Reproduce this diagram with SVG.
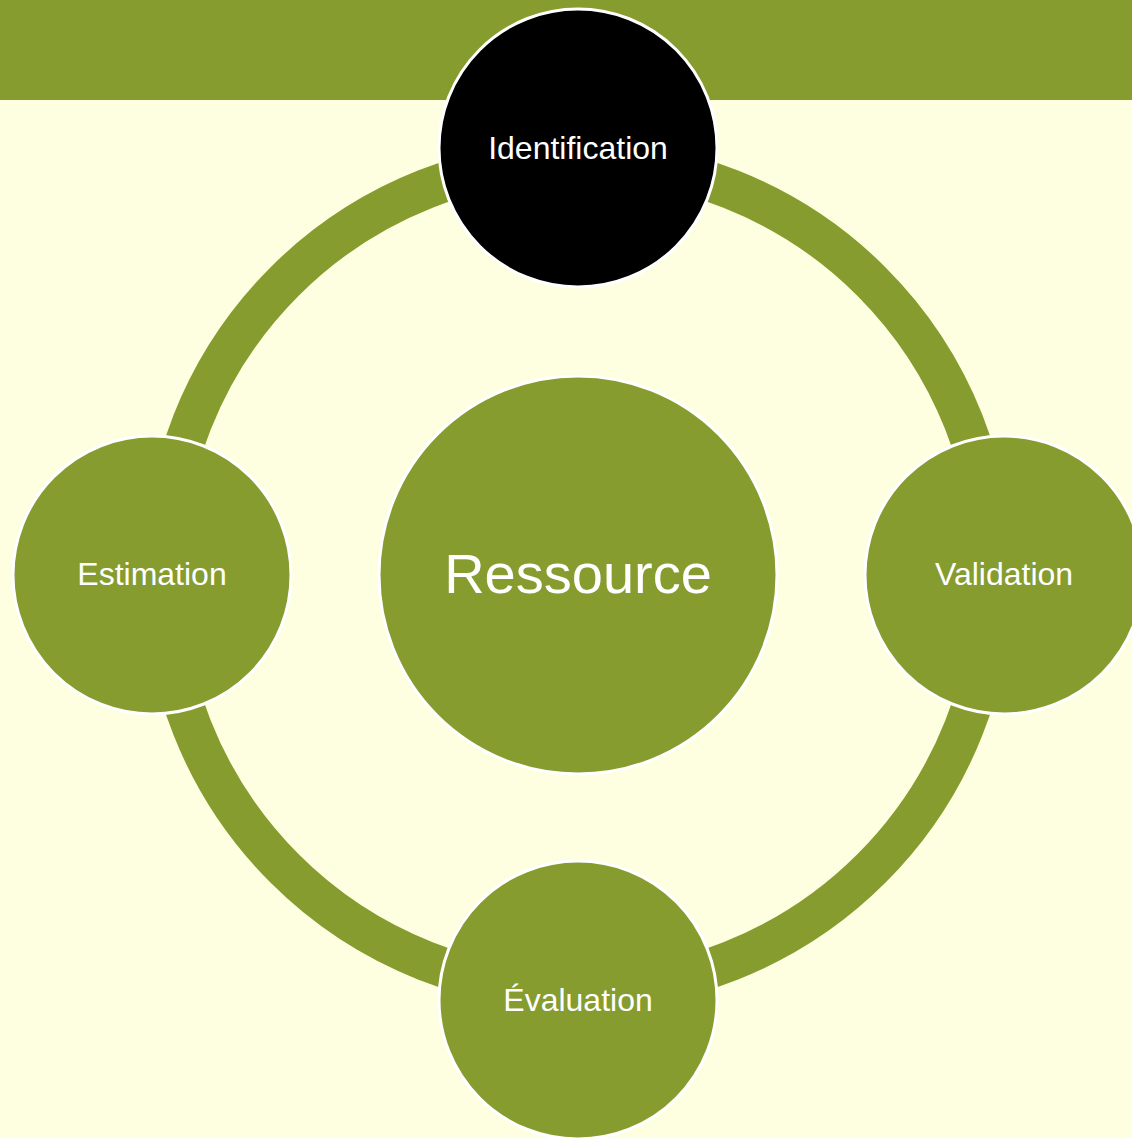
<svg xmlns="http://www.w3.org/2000/svg" width="1132" height="1138" viewBox="0 0 1132 1138">
<style>
.n{fill:#869C2F;stroke:#FFFFFF;stroke-width:3}
.t{fill:#FFFFFF;font-family:"Liberation Sans",Arial,sans-serif;font-size:32px;text-anchor:middle;dominant-baseline:central}
</style>
<rect x="0" y="0" width="1132" height="1138" fill="#FEFEE0"/>
<rect x="0" y="0" width="1132" height="100" fill="#869C2F"/>
<g id="connectors">
<circle cx="578" cy="575" r="415" fill="none" stroke="#869C2F" stroke-width="40"/>
</g>
<g id="ressource">
<circle class="n" cx="578" cy="575" r="199"/>
<text class="t" x="578" y="573" style="font-size:56px">Ressource</text>
</g>
<g id="identification">
<circle class="n" cx="578" cy="148" r="139" style="fill:#000000"/>
<text class="t" x="578" y="148">Identification</text>
</g>
<g id="validation">
<circle class="n" cx="1004" cy="575" r="139"/>
<text class="t" x="1004" y="574">Validation</text>
</g>
<g id="evaluation">
<circle class="n" cx="578" cy="1000" r="139"/>
<text class="t" x="578" y="1000">Évaluation</text>
</g>
<g id="estimation">
<circle class="n" cx="152" cy="575" r="139"/>
<text class="t" x="152" y="574">Estimation</text>
</g>
</svg>
